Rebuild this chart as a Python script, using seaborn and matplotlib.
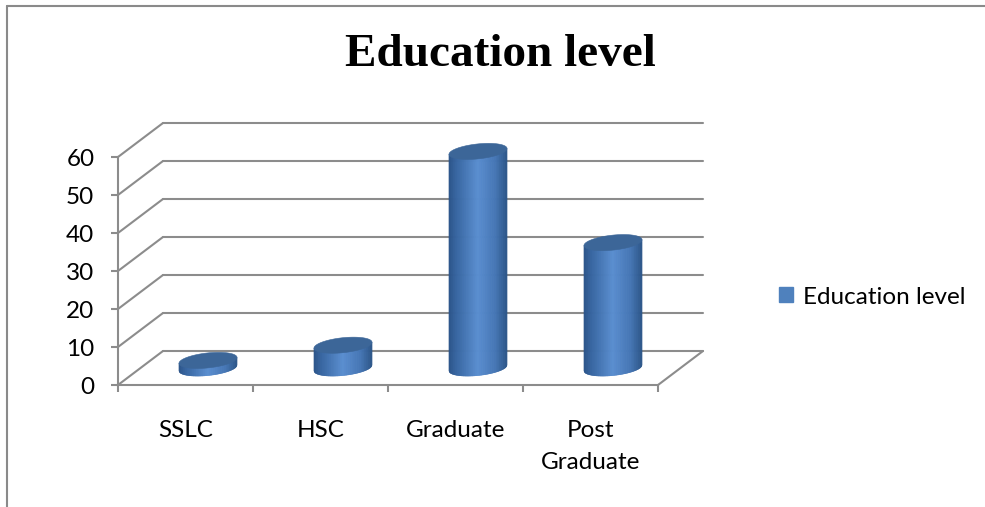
import numpy as np
import pandas as pd
import matplotlib
matplotlib.use("Agg")
import matplotlib.pyplot as plt
import seaborn as sns
from matplotlib.collections import PolyCollection
from matplotlib.patches import Polygon, Patch
from matplotlib.lines import Line2D
from matplotlib.transforms import ScaledTranslation, IdentityTransform
from matplotlib.colors import LinearSegmentedColormap

# ---------------- data ----------------
categories = ["SSLC", "HSC", "Graduate", "Post\nGraduate"]
values = [2, 6, 57, 33]
series_name = "Education level"
y_ticks = [0, 10, 20, 30, 40, 50, 60]
title = "Education level"

# ---------------- style ----------------
W, H, DPI = 985, 507, 100
BLUE = "#4F81BD"
GRID = "#8C8C8C"
TOP = "#3C6698"
DEPTH = (45, 34)      # px offset front -> back wall
b_px, shear = 7.5, 0.10
FS = 17.5

sns.set_theme(style="white")
plt.rcParams['font.family'] = ['Lato', 'DejaVu Sans']
plt.rcParams['text.color'] = 'black'

fig = plt.figure(figsize=(W / DPI, H / DPI), dpi=DPI)
fig.patch.set_facecolor("white")
ax = fig.add_axes([118 / W, (H - 385) / H, 540 / W, 228 / H])
ax.set_facecolor("none")

df = pd.DataFrame({"category": categories, "value": values, "series": series_name})
sns.barplot(data=df, x="category", y="value", hue="series",
            palette={series_name: BLUE}, width=0.43, dodge=False,
            legend=False, ax=ax)
ax.set_xlim(-0.5, len(categories) - 0.5)
ax.set_ylim(0, 60)

# back wall gridlines
back = ScaledTranslation(DEPTH[0] / DPI, DEPTH[1] / DPI, fig.dpi_scale_trans)
for v in y_ticks:
    ax.plot([-0.5, len(categories) - 0.5], [v, v], transform=ax.transData + back,
            color=GRID, lw=1.5, clip_on=False, zorder=1)

# left wall diagonals + right floor edge
def diag(xd, yd):
    p0 = ax.transData.transform((xd, yd))
    ax.add_line(Line2D([p0[0], p0[0] + DEPTH[0]], [p0[1], p0[1] + DEPTH[1]],
                       transform=IdentityTransform(), color=GRID, lw=1.5,
                       clip_on=False, zorder=1))
for v in y_ticks:
    diag(-0.5, v)
diag(len(categories) - 0.5, 0)

# cylinders from seaborn bar geometry
cmap = LinearSegmentedColormap.from_list(
    "cyl", [(0, "#2B5388"), (0.12, "#36649F"), (0.5, "#5A8ED0"),
            (0.8, "#4677B6"), (1, "#2D5689")])
for p in list(ax.patches):
    x0, wd, h = p.get_x(), p.get_width(), p.get_height()
    p.set_visible(False)
    xc = x0 + wd / 2
    c0 = ax.transData.transform((xc, 0)) + np.array(DEPTH) / 2
    c1 = ax.transData.transform((xc, h)) + np.array(DEPTH) / 2
    a = (ax.transData.transform((x0 + wd, 0))[0] - ax.transData.transform((x0, 0))[0]) / 2
    N = 90
    xs = np.linspace(-a, a, N + 1)
    bot = c0[1] - b_px * np.sqrt(np.clip(1 - (xs / a) ** 2, 0, 1)) + shear * xs
    top = c1[1] + shear * xs
    polys, cols = [], []
    for i in range(N):
        polys.append([(c0[0] + xs[i], bot[i]), (c0[0] + xs[i + 1], bot[i + 1]),
                      (c0[0] + xs[i + 1], top[i + 1]), (c0[0] + xs[i], top[i])])
        cols.append(cmap((i + 0.5) / N))
    pc = PolyCollection(polys, facecolors=cols, edgecolors=cols, linewidths=0.4,
                        transform=IdentityTransform(), clip_on=False, zorder=3)
    ax.add_collection(pc)
    t = np.linspace(0, 2 * np.pi, 200)
    ell = np.column_stack([c1[0] + a * np.cos(t),
                           c1[1] + b_px * np.sin(t) + shear * a * np.cos(t)])
    ax.add_patch(Polygon(ell, closed=True, facecolor=TOP, edgecolor=TOP, lw=0.4,
                         transform=IdentityTransform(), clip_on=False, zorder=4))

ax.set_xlim(-0.5, len(categories) - 0.5)
ax.set_ylim(0, 60)

# axes / ticks
for s in ["top", "right"]:
    ax.spines[s].set_visible(False)
for s in ["left", "bottom"]:
    ax.spines[s].set_color(GRID)
    ax.spines[s].set_linewidth(1.5)
ax.set_yticks(y_ticks)
ax.set_yticklabels([str(v) for v in y_ticks])
ax.set_xticks(range(len(categories)))
ax.set_xticklabels(categories, linespacing=1.65)
ax.set_xticks(np.arange(-0.5, len(categories)), minor=True)
ax.tick_params(axis="y", which="major", length=5, width=1.5, color=GRID,
               direction="out", pad=12, labelsize=FS, labelcolor="black", left=True)
ax.tick_params(axis="x", which="major", length=0, pad=25, labelsize=FS,
               labelcolor="black")
ax.tick_params(axis="x", which="minor", length=5, width=1.5, color=GRID,
               direction="out", bottom=True)
ax.set_xlabel("")
ax.set_ylabel("")
ax.grid(False)

# legend
fig.legend(handles=[Patch(facecolor=BLUE, edgecolor=BLUE)], labels=[series_name],
           loc="center left", bbox_to_anchor=(779 / W, 1 - 297 / H), frameon=False,
           fontsize=FS, handlelength=0.58, handleheight=0.58, handletextpad=0.4,
           borderpad=0, borderaxespad=0, labelcolor="black")

# title
fig.text(500 / W, 1 - 55 / H, title, ha="center", va="center", fontsize=34,
         fontweight="bold", color="black",
         family=["Liberation Serif", "DejaVu Serif"])

# chart border
fig.add_artist(Line2D([7 / W, 7 / W], [0, 1 - 6 / H], transform=fig.transFigure,
                      color="#8A8A8A", lw=1.5))
fig.add_artist(Line2D([7 / W, 1], [1 - 6 / H, 1 - 6 / H], transform=fig.transFigure,
                      color="#8A8A8A", lw=1.5))

fig.savefig("out.png", dpi=DPI, facecolor="white")
